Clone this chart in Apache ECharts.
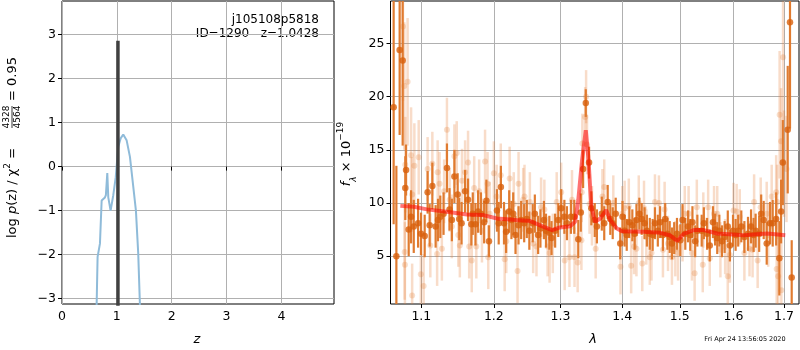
<!DOCTYPE html>
<html>
<head>
<meta charset="utf-8">
<script src="https://cdn.jsdelivr.net/npm/echarts@6/dist/echarts.min.js"></script>
<style>
  html, body { margin: 0; padding: 0; background: #fff; }
  #chart { width: 800px; height: 350px; }
</style>
</head>
<body>
<div id="chart"></div>
<script>
// p(z) panel
const pzZ = [0.60, 0.632, 0.649, 0.692, 0.723, 0.783, 0.80, 0.826, 0.844, 0.886, 0.935, 0.98, 1.026, 1.069, 1.117, 1.178, 1.239, 1.30, 1.348, 1.39, 1.42, 1.45]
const pzLog = [-6.0, -3.11, -2.05, -1.75, -0.77, -0.70, -0.65, -0.145, -0.70, -1.0, -0.65, -0.24, 0.45, 0.64, 0.73, 0.60, 0.22, -0.46, -1.0, -1.97, -3.1, -6.0]
const bestZ = 1.02
const bestTop = 2.86
const zTicks = [0, 1, 2, 3, 4]
const pzTicks = [-3, -2, -1, 0, 1, 2, 3]

// spectrum panel: binned points (dark)
const darkWave = [1.0640, 1.0675, 1.0717, 1.0756, 1.0790, 1.0800, 1.0834, 1.0865, 1.0900, 1.0957, 1.0996, 1.1044, 1.1083, 1.1110, 1.1146, 1.1190, 1.1222, 1.1253, 1.1297, 1.1343, 1.1378, 1.1410, 1.1445, 1.1490, 1.1512, 1.1544, 1.1593, 1.1634, 1.1680, 1.1700, 1.1738, 1.1775, 1.1816, 1.1861, 1.1893, 1.1930, 1.2045, 1.2070, 1.2102, 1.2147, 1.2178, 1.2223, 1.2256, 1.2282, 1.2316, 1.2361, 1.2400, 1.2445, 1.2484, 1.2522, 1.2573, 1.2605, 1.2655, 1.2690, 1.2743, 1.2775, 1.2827, 1.2860, 1.2916, 1.2965, 1.3010, 1.3060, 1.3100, 1.3163, 1.3216, 1.3280, 1.3320, 1.3357, 1.3400, 1.3453, 1.3490, 1.3545, 1.3580, 1.3660, 1.3700, 1.3757, 1.3800, 1.3840, 1.3890, 1.3966, 1.4004, 1.4040, 1.4075, 1.4120, 1.4170, 1.4210, 1.4240, 1.4290, 1.4330, 1.4380, 1.4420, 1.4470, 1.4520, 1.4560, 1.4610, 1.4650, 1.4700, 1.4740, 1.4780, 1.4820, 1.4860, 1.4900, 1.4950, 1.5010, 1.5050, 1.5100, 1.5150, 1.5190, 1.5230, 1.5280, 1.5320, 1.5400, 1.5440, 1.5500, 1.5550, 1.5610, 1.5650, 1.5690, 1.5730, 1.5780, 1.5830, 1.5890, 1.5930, 1.5990, 1.6040, 1.6090, 1.6150, 1.6210, 1.6280, 1.6340, 1.6390, 1.6430, 1.6500, 1.6540, 1.6590, 1.6650, 1.6716, 1.6770, 1.6840, 1.6904, 1.6940, 1.6975, 1.7075, 1.7122, 1.7157]
const darkFlux = [19.0, 5.0, 24.4, 23.4, 11.4, 13.1, 7.5, 8.7, 7.8, 8.1, 7.1, 6.9, 11.0, 7.9, 11.6, 7.8, 8.4, 8.7, 9.0, 13.3, 9.4, 8.4, 12.5, 10.8, 8.5, 8.1, 11.1, 10.3, 8.0, 9.0, 8.0, 9.2, 9.0, 8.2, 10.2, 6.4, 9.3, 8.1, 11.5, 8.1, 7.3, 9.2, 8.4, 9.0, 7.0, 7.9, 8.4, 8.1, 8.5, 7.4, 8.1, 9.0, 7.0, 7.6, 8.4, 7.4, 7.2, 6.7, 7.4, 8.4, 9.5, 8.7, 8.1, 8.7, 8.7, 6.6, 9.1, 13.2, 19.4, 13.8, 9.5, 8.4, 7.8, 9.0, 8.1, 10.1, 8.5, 8.1, 9.0, 6.2, 8.7, 7.4, 7.0, 8.2, 7.9, 7.1, 8.4, 9.0, 8.5, 8.1, 7.4, 7.1, 7.0, 8.1, 7.4, 8.2, 7.0, 8.5, 7.1, 6.8, 6.2, 6.7, 7.1, 6.5, 8.4, 7.1, 7.8, 7.0, 8.2, 6.4, 7.4, 7.4, 8.1, 7.1, 6.0, 8.2, 7.5, 6.7, 7.4, 6.4, 6.8, 7.8, 6.0, 7.4, 7.0, 7.4, 7.8, 6.8, 7.1, 7.8, 7.0, 7.4, 7.1, 9.0, 8.4, 6.2, 8.1, 8.1, 8.5, 4.8, 9.2, 13.8, 16.9, 27.0, 3.0]
const darkErr = [11.0, 8.5, 8.0, 8.0, 3.0, 2.4, 2.5, 2.5, 2.5, 2.3, 2.0, 2.0, 2.0, 2.0, 2.2, 2.0, 2.0, 2.0, 2.0, 2.3, 2.0, 2.0, 2.5, 2.0, 2.0, 2.0, 2.0, 2.0, 2.0, 2.0, 2.0, 2.0, 2.0, 2.0, 2.0, 1.5, 2.0, 2.0, 2.0, 2.0, 2.0, 2.0, 1.8, 2.0, 1.8, 1.8, 1.8, 1.8, 1.8, 1.8, 1.8, 1.8, 1.8, 1.8, 1.8, 1.6, 1.6, 1.6, 1.6, 1.6, 1.8, 1.6, 1.6, 1.6, 1.6, 1.8, 1.8, 1.8, 1.3, 1.5, 1.6, 1.6, 1.6, 1.6, 1.6, 1.6, 1.5, 1.5, 1.5, 1.5, 1.5, 1.5, 1.5, 1.5, 1.5, 1.5, 1.5, 1.5, 1.5, 1.5, 1.5, 1.5, 1.5, 1.5, 1.5, 1.5, 1.5, 1.5, 1.5, 1.5, 1.5, 1.5, 1.5, 1.5, 1.5, 1.5, 1.5, 1.5, 1.5, 1.5, 1.5, 1.5, 1.5, 1.5, 1.5, 1.5, 1.5, 1.5, 1.5, 1.5, 1.5, 1.5, 1.5, 1.5, 1.5, 1.5, 1.5, 1.5, 1.6, 1.6, 1.6, 1.6, 1.7, 1.8, 1.8, 2.0, 2.0, 2.2, 2.5, 3.5, 3.0, 4.0, 6.0, 10.0, 3.5]

// spectrum panel: individual exposures (light)
const lightWave = [1.0760, 1.0777, 1.0782, 1.0785, 1.0790, 1.0820, 1.0865, 1.0879, 1.0880, 1.0908, 1.0965, 1.0993, 1.1030, 1.1083, 1.1119, 1.1146, 1.1210, 1.1217, 1.1243, 1.1274, 1.1305, 1.1343, 1.1380, 1.1410, 1.1445, 1.1477, 1.1499, 1.1520, 1.1550, 1.1593, 1.1634, 1.1650, 1.1686, 1.1720, 1.1750, 1.1790, 1.1830, 1.1874, 1.1910, 1.1920, 1.1940, 1.2000, 1.2040, 1.2100, 1.2157, 1.2180, 1.2230, 1.2290, 1.2346, 1.2361, 1.2430, 1.2450, 1.2530, 1.2580, 1.2630, 1.2700, 1.2750, 1.2800, 1.2830, 1.2880, 1.2940, 1.3010, 1.3065, 1.3140, 1.3180, 1.3220, 1.3270, 1.3330, 1.3335, 1.3345, 1.3390, 1.3405, 1.3420, 1.3460, 1.3500, 1.3560, 1.3670, 1.3700, 1.3850, 1.3970, 1.4000, 1.4040, 1.4110, 1.4150, 1.4200, 1.4240, 1.4280, 1.4340, 1.4370, 1.4410, 1.4470, 1.4500, 1.4560, 1.4630, 1.4700, 1.4730, 1.4790, 1.4860, 1.4920, 1.4970, 1.5050, 1.5090, 1.5160, 1.5220, 1.5270, 1.5310, 1.5420, 1.5430, 1.5520, 1.5550, 1.5630, 1.5690, 1.5750, 1.5840, 1.5890, 1.5930, 1.6000, 1.6060, 1.6120, 1.6210, 1.6310, 1.6370, 1.6400, 1.6470, 1.6530, 1.6650, 1.6680, 1.6750, 1.6840, 1.6850, 1.6860, 1.6880, 1.6910, 1.6940, 1.6945, 1.6980, 1.7000, 1.7050]
const lightFlux = [26.6, 21.0, 5.4, 4.2, 13.6, 21.4, 14.5, 1.3, 10.8, 13.5, 14.3, 3.3, 2.2, 13.2, 6.0, 13.7, 5.2, 12.9, 11.8, 5.7, 11.1, 16.9, 10.3, 7.8, 14.4, 14.7, 7.0, 6.0, 12.1, 12.9, 13.8, 5.9, 4.6, 11.4, 5.9, 11.1, 7.4, 13.9, 11.8, 4.9, 9.0, 12.8, 10.6, 12.6, 4.7, 6.4, 12.3, 9.9, 3.6, 11.8, 10.3, 10.6, 10.1, 6.2, 5.9, 9.6, 9.4, 5.9, 5.3, 6.2, 10.1, 11.0, 4.6, 4.9, 10.3, 4.9, 4.4, 6.5, 11.0, 15.6, 18.1, 20.0, 15.5, 9.9, 8.8, 5.7, 10.6, 11.5, 10.0, 4.0, 9.0, 9.5, 9.7, 4.1, 5.9, 5.7, 10.0, 4.3, 9.5, 6.8, 4.9, 5.3, 10.1, 10.0, 5.6, 9.4, 6.2, 4.9, 5.7, 5.3, 7.1, 9.0, 9.0, 5.3, 3.4, 9.6, 4.2, 8.4, 9.6, 4.8, 9.0, 9.0, 5.6, 5.9, 3.1, 5.1, 9.3, 9.2, 8.7, 5.3, 5.7, 5.6, 10.1, 4.6, 9.6, 9.0, 7.0, 10.6, 11.0, 3.8, 10.1, 3.1, 18.3, 15.8, 1.8, 23.7, 13.7, 13.2]
const lightErr = [7.0, 6.0, 4.5, 4.0, 4.5, 6.0, 4.5, 3.0, 3.5, 4.0, 3.5, 3.0, 3.0, 3.0, 3.0, 3.0, 3.0, 3.0, 3.0, 3.0, 3.0, 3.0, 3.0, 3.0, 3.0, 3.0, 3.0, 3.0, 3.0, 3.0, 3.0, 3.0, 3.0, 3.0, 3.0, 3.0, 3.0, 3.0, 3.0, 3.0, 3.0, 3.0, 3.0, 3.0, 3.0, 3.0, 3.0, 3.0, 3.0, 3.0, 3.0, 3.0, 2.8, 2.8, 2.8, 2.8, 2.8, 2.8, 2.8, 2.8, 2.8, 2.8, 2.8, 2.8, 2.8, 2.8, 2.8, 2.8, 2.8, 2.8, 2.8, 2.5, 2.8, 2.8, 2.8, 2.8, 2.6, 2.6, 2.6, 2.6, 2.6, 2.6, 2.6, 2.6, 2.6, 2.6, 2.6, 2.6, 2.6, 2.6, 2.6, 2.6, 2.6, 2.6, 2.6, 2.6, 2.6, 2.6, 2.6, 2.6, 2.6, 2.6, 2.6, 2.6, 2.6, 2.6, 2.6, 2.6, 2.6, 2.6, 2.6, 2.6, 2.6, 2.6, 2.6, 2.6, 2.6, 2.6, 2.6, 2.6, 2.6, 2.6, 2.6, 2.6, 2.8, 3.0, 3.0, 3.0, 3.5, 3.5, 3.5, 4.0, 6.0, 5.0, 5.0, 6.0, 5.0, 5.0]

// model
const modelWave = [1.0726, 1.0900, 1.1075, 1.1340, 1.1620, 1.1850, 1.2045, 1.2330, 1.2536, 1.2740, 1.2870, 1.2990, 1.3150, 1.3230, 1.3280, 1.3340, 1.3400, 1.3440, 1.3490, 1.3550, 1.3634, 1.3730, 1.3800, 1.3910, 1.3995, 1.4360, 1.4647, 1.4820, 1.4953, 1.5070, 1.5254, 1.5440, 1.5690, 1.6200, 1.6660, 1.7025]
const modelFlux = [9.73, 9.64, 9.40, 9.17, 8.92, 8.86, 8.54, 8.39, 8.30, 7.76, 7.45, 7.70, 7.82, 8.23, 10.27, 14.0, 16.85, 14.35, 9.64, 8.23, 8.54, 9.33, 8.39, 7.60, 7.35, 7.29, 7.20, 6.97, 6.44, 7.10, 7.45, 7.45, 7.13, 6.97, 7.13, 6.97]
const waveTicks = [1.1, 1.2, 1.3, 1.4, 1.5, 1.6, 1.7]
const fluxTicks = [5, 10, 15, 20, 25]

const FONT = 'DejaVu Sans'
const minus = v => String(v).replace('-', '\u2212')

const zip3 = (a, b, c) => a.map((v, i) => [v, b[i], c[i]])
const zip2 = (a, b) => a.map((v, i) => [v, b[i]])

function errorBar (color, width) {
  return function (params, api) {
    const x = api.value(0)
    const y = api.value(1)
    const e = api.value(2)
    const p1 = api.coord([x, y - e])
    const p2 = api.coord([x, y + e])
    return {
      type: 'line',
      shape: { x1: p1[0], y1: p1[1], x2: p2[0], y2: p2[1] },
      style: { stroke: color, lineWidth: width }
    }
  }
}

function axisCommon (ticks, fmt) {
  return {
    axisLine: { show: false },
    axisTick: { show: true, customValues: ticks, length: 4, lineStyle: { color: '#000', width: 1 } },
    axisLabel: { customValues: ticks, color: '#000', fontFamily: FONT, fontSize: 12.5, margin: 6, formatter: fmt },
    splitLine: { show: true, lineStyle: { color: '#b0b0b0', width: 1 } }
  }
}

const chart = echarts.init(document.getElementById('chart'), null, { renderer: 'canvas' })

chart.setOption({
  animation: false,
  backgroundColor: '#fff',
  grid: [
    { left: 62, top: 1, width: 272, height: 303, show: true, borderColor: '#000', borderWidth: 1 },
    { left: 390.5, top: 1, width: 408.5, height: 303, show: true, borderColor: '#000', borderWidth: 1 }
  ],
  xAxis: [
    Object.assign({ type: 'value', gridIndex: 0, min: 0, max: 4.96 }, axisCommon(zTicks, v => minus(v))),
    Object.assign({ type: 'log', logBase: 10, gridIndex: 1, min: 1.06, max: 1.7308 }, axisCommon(waveTicks, v => Number(v).toFixed(1)))
  ],
  yAxis: [
    Object.assign({ type: 'value', gridIndex: 0, min: -3.12, max: 3.76 }, axisCommon(pzTicks, v => minus(v))),
    Object.assign({ type: 'value', gridIndex: 1, min: 0.5, max: 29 }, axisCommon(fluxTicks, v => minus(v)))
  ],
  series: [
    {
      type: 'line',
      xAxisIndex: 0,
      yAxisIndex: 0,
      data: zip2(pzZ, pzLog),
      symbol: 'none',
      clip: true,
      lineStyle: { color: '#8fbbd9', width: 2 },
      z: 3
    },
    {
      type: 'line',
      xAxisIndex: 0,
      yAxisIndex: 0,
      data: [[bestZ, -4], [bestZ, bestTop]],
      symbol: 'none',
      clip: true,
      lineStyle: { color: '#404040', width: 3.5 },
      z: 4
    },
    {
      type: 'custom',
      xAxisIndex: 1,
      yAxisIndex: 1,
      data: zip3(lightWave, lightFlux, lightErr),
      encode: { x: 0, y: 1 },
      renderItem: errorBar('rgba(230, 130, 60, 0.28)', 2.5),
      clip: true,
      z: 2
    },
    {
      type: 'scatter',
      xAxisIndex: 1,
      yAxisIndex: 1,
      data: zip2(lightWave, lightFlux),
      symbolSize: 6,
      itemStyle: { color: 'rgba(225, 120, 40, 0.3)' },
      clip: true,
      z: 2
    },
    {
      type: 'custom',
      xAxisIndex: 1,
      yAxisIndex: 1,
      data: zip3(darkWave, darkFlux, darkErr),
      encode: { x: 0, y: 1 },
      renderItem: errorBar('#e07b30', 2.2),
      clip: true,
      z: 3
    },
    {
      type: 'scatter',
      xAxisIndex: 1,
      yAxisIndex: 1,
      data: zip2(darkWave, darkFlux),
      symbolSize: 6.5,
      itemStyle: { color: '#d8600c' },
      clip: true,
      z: 3
    },
    {
      type: 'line',
      xAxisIndex: 1,
      yAxisIndex: 1,
      data: zip2(modelWave, modelFlux),
      symbol: 'none',
      clip: true,
      lineStyle: { color: 'rgba(255, 0, 0, 0.55)', width: 4 },
      z: 4
    }
  ],
  graphic: [
    {
      type: 'text', left: null, x: 319, y: 20,
      style: { text: 'j105108p5818', fontFamily: FONT, fontSize: 12, fill: '#000', align: 'right', verticalAlign: 'middle' }
    },
    {
      type: 'text', x: 319, y: 34,
      style: { text: 'ID=1290   z=1.0428', fontFamily: FONT, fontSize: 12, fill: '#000', align: 'right', verticalAlign: 'middle' }
    },
    {
      type: 'text', x: 197, y: 340,
      style: { text: 'z', fontFamily: FONT, fontSize: 13, fontStyle: 'italic', fill: '#000', align: 'center', verticalAlign: 'middle' }
    },
    {
      type: 'text', x: 593, y: 340,
      style: { text: 'λ', fontFamily: FONT, fontSize: 13, fontStyle: 'italic', fill: '#000', align: 'center', verticalAlign: 'middle' }
    },
    {
      type: 'text', x: 745, y: 339.5,
      style: { text: 'Fri Apr 24 13:56:05 2020', fontFamily: FONT, fontSize: 6.5, fill: '#000', align: 'center', verticalAlign: 'middle' }
    },
    {
      // left y label, rotated, with a stacked fraction
      type: 'group', x: 13, y: 238, rotation: Math.PI / 2,
      children: [
        {
          type: 'text', x: 0, y: 0,
          style: {
            text: 'log {i|p}(z) / χ{sup|2} =',
            fontFamily: FONT, fontSize: 13, fill: '#000', align: 'left', verticalAlign: 'middle',
            rich: {
              i: { fontFamily: FONT, fontSize: 13, fontStyle: 'italic', lineHeight: 20 },
              sup: { fontFamily: FONT, fontSize: 9, verticalAlign: 'top', lineHeight: 12 }
            }
          }
        },
        {
          type: 'text', x: 121, y: -6,
          style: { text: '4328', fontFamily: FONT, fontSize: 9, fill: '#000', align: 'center', verticalAlign: 'middle' }
        },
        {
          type: 'line', shape: { x1: 110, y1: -1, x2: 132, y2: -1 },
          style: { stroke: '#000', lineWidth: 0.8 }
        },
        {
          type: 'text', x: 121, y: 5,
          style: { text: '4564', fontFamily: FONT, fontSize: 9, fill: '#000', align: 'center', verticalAlign: 'middle' }
        },
        {
          type: 'text', x: 137, y: 0,
          style: { text: '= 0.95', fontFamily: FONT, fontSize: 13, fill: '#000', align: 'left', verticalAlign: 'middle' }
        }
      ]
    },
    {
      type: 'group', x: 347, y: 154, rotation: Math.PI / 2,
      children: [
        {
          type: 'text', x: 0, y: 0,
          style: {
            text: '{i|f}{sub|λ}{n| × 10}{sup|−19}',
            fontFamily: FONT, fontSize: 13, fill: '#000', align: 'center', verticalAlign: 'middle',
            rich: {
              i: { fontFamily: FONT, fontSize: 13, fontStyle: 'italic', lineHeight: 22 },
              sub: { fontFamily: FONT, fontSize: 9, fontStyle: 'italic', verticalAlign: 'bottom', lineHeight: 13 },
              n: { fontFamily: FONT, fontSize: 13, lineHeight: 22 },
              sup: { fontFamily: FONT, fontSize: 9, verticalAlign: 'top', lineHeight: 12 }
            }
          }
        }
      ]
    }
  ]
})
</script>
</body>
</html>
